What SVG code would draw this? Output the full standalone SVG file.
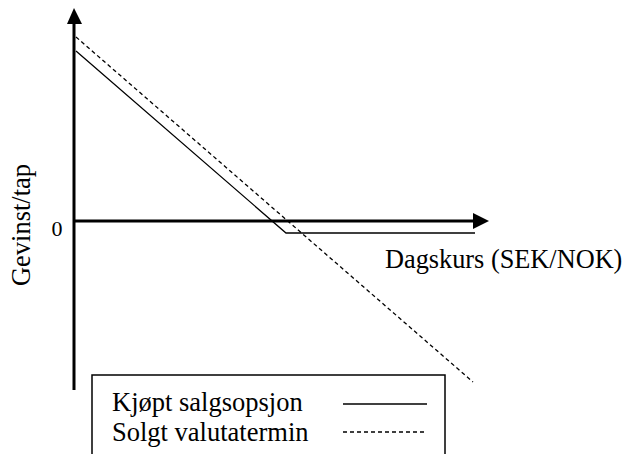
<svg xmlns="http://www.w3.org/2000/svg" width="627" height="454" viewBox="0 0 627 454">
<style>
.ax{stroke:#000;stroke-width:3;fill:none}
.solid{stroke:#000;stroke-width:1.3;fill:none}
.dash{stroke:#000;stroke-width:1.3;fill:none;stroke-dasharray:4 3}
</style>
<rect width="627" height="454" fill="#fff"/>
<g id="axes">
<line class="ax" x1="74" y1="390" x2="74" y2="22"/>
<polygon points="74,8 67,24 82,24" fill="#000"/>
<line class="ax" x1="74" y1="221" x2="475" y2="221"/>
<polygon points="489,221 473,213 473,229" fill="#000"/>
</g>
<g id="labels" font-family="Liberation Serif, Times New Roman, DejaVu Serif, serif" fill="#000">
<text x="57" y="236" font-size="22" text-anchor="middle">0</text>
<text transform="translate(30,225) rotate(-90)" font-size="26.5" text-anchor="middle">Gevinst/tap</text>
<text x="385" y="268" font-size="26.3">Dagskurs (SEK/NOK)</text>
</g>
<g id="connectors">
<polyline class="solid" points="76,51 286,233 475,233"/>
<line class="dash" x1="76" y1="37" x2="473" y2="382"/>
</g>
<g id="legend">
<rect x="92" y="375" width="353" height="90" fill="#fff" stroke="#000" stroke-width="1.5"/>
<g font-family="Liberation Serif, Times New Roman, DejaVu Serif, serif" fill="#000" font-size="26.5">
<text x="112" y="411">Kjøpt salgsopsjon</text>
<text x="112" y="441">Solgt valutatermin</text>
</g>
<line class="solid" x1="343" y1="404" x2="427" y2="404"/>
<line class="dash" x1="343" y1="432" x2="427" y2="432"/>
</g>
</svg>
